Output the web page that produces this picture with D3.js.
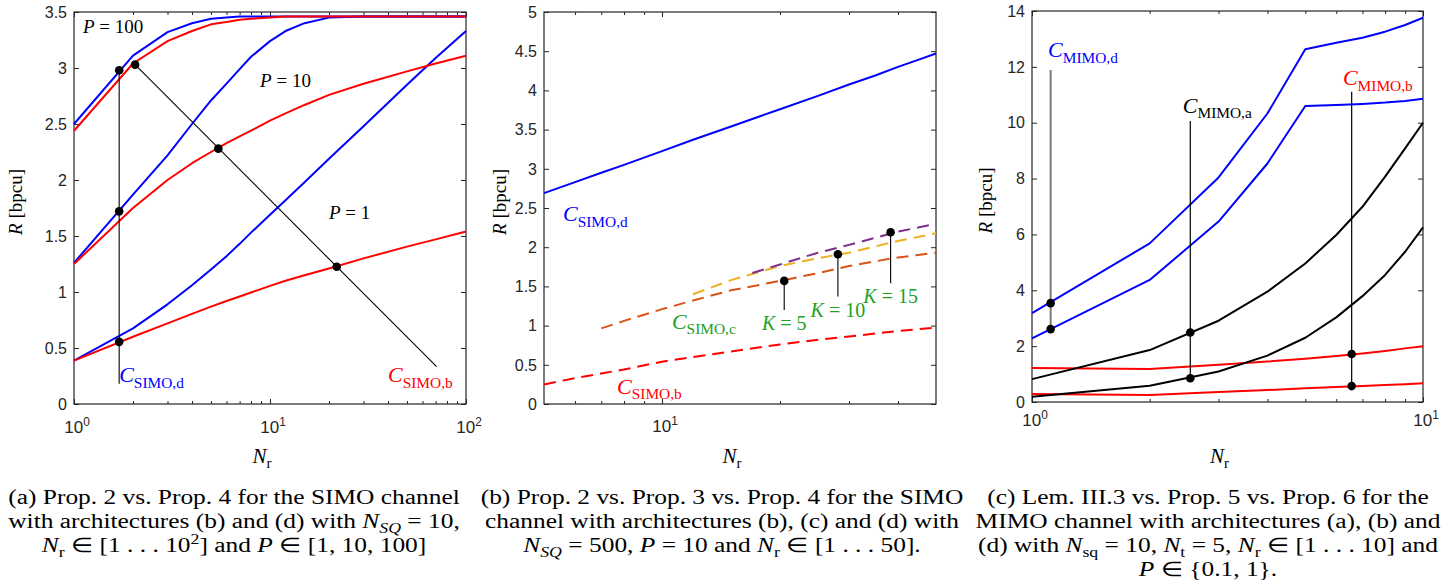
<!DOCTYPE html>
<html>
<head>
<meta charset="utf-8">
<script src="https://cdn.jsdelivr.net/npm/d3@7/dist/d3.min.js"></script>
<style>
body{margin:0;background:#fff;}
svg{display:block;}
text{white-space:pre;}
</style>
</head>
<body>
<svg id="chart" width="1450" height="588" xmlns="http://www.w3.org/2000/svg"></svg>
<script>
// ================= DATA =================
// ---- Panel (a): SIMO, Prop.2 (d, blue) vs Prop.4 (b, red), P = 1, 10, 100
const nrA = [1, 2, 3, 4, 5, 6, 7, 8, 10, 12, 15, 20, 30, 50, 70, 100];
const aD_P100 = [2.50, 3.11, 3.32, 3.40, 3.44, 3.45, 3.46, 3.46, 3.46, 3.46, 3.46, 3.46, 3.46, 3.46, 3.46, 3.46];
const aB_P100 = [2.44, 3.04, 3.24, 3.33, 3.39, 3.41, 3.43, 3.44, 3.45, 3.46, 3.46, 3.46, 3.46, 3.46, 3.46, 3.46];
const aD_P10  = [1.26, 1.87, 2.22, 2.50, 2.71, 2.86, 2.99, 3.10, 3.24, 3.33, 3.40, 3.45, 3.46, 3.46, 3.46, 3.46];
const aB_P10  = [1.25, 1.75, 2.00, 2.15, 2.25, 2.33, 2.39, 2.44, 2.53, 2.595, 2.67, 2.76, 2.86, 2.97, 3.04, 3.11];
const aD_P1   = [0.387, 0.675, 0.89, 1.06, 1.20, 1.32, 1.43, 1.53, 1.69, 1.82, 1.98, 2.19, 2.48, 2.85, 3.09, 3.33];
const aB_P1   = [0.387, 0.60, 0.72, 0.805, 0.87, 0.92, 0.96, 0.995, 1.055, 1.10, 1.15, 1.21, 1.30, 1.405, 1.47, 1.54];
const aVlineNr = [1.7, 1.7];
const aVlineR  = [0.18, 3.01];
const aDiagNr  = [2.05, 70.8];
const aDiagR   = [3.03, 0.333];
const aDotNr   = [1.7, 1.7, 1.7, 2.05, 5.45, 21.9];
const aDotR    = [2.98, 1.72, 0.555, 3.03, 2.28, 1.225];
const aYTicks  = [0, 0.5, 1, 1.5, 2, 2.5, 3, 3.5];
const aXMajor  = [1, 10, 100];
const aXMinor  = [2, 3, 4, 5, 6, 7, 8, 9, 20, 30, 40, 50, 60, 70, 80, 90];
const aPLabels = ["100", "10", "1"];

// ---- Panel (b): SIMO, N_SQ = 500, P = 10
const nrB   = [5, 6, 7, 8, 10, 12, 15, 20, 25, 30, 35, 40, 45, 50];
const bD    = [2.69, 2.83, 2.95, 3.05, 3.225, 3.37, 3.54, 3.76, 3.93, 4.075, 4.19, 4.30, 4.39, 4.47];
const bB    = [0.25, 0.33, 0.39, 0.44, 0.54, 0.60, 0.67, 0.76, 0.82, 0.86, 0.90, 0.93, 0.955, 0.975];
const nrK5  = [7, 8, 10, 12, 15, 20, 25, 30, 35, 40, 45, 50];
const bK5   = [0.965, 1.06, 1.21, 1.32, 1.45, 1.57, 1.67, 1.76, 1.82, 1.87, 1.90, 1.93];
const nrK10 = [12, 15, 20, 25, 30, 35, 40, 45, 50];
const bK10  = [1.40, 1.58, 1.76, 1.86, 1.93, 2.01, 2.08, 2.13, 2.18];
const nrK15 = [17, 20, 25, 30, 35, 40, 45, 50];
const bK15  = [1.67, 1.78, 1.93, 2.03, 2.12, 2.20, 2.25, 2.30];
const bStemNr  = [20.5, 28.1, 38.3];
const bStemTop = [1.57, 1.91, 2.19];
const bStemBot = [1.20, 1.37, 1.54];
const bKLabels = ["5", "10", "15"];
const bYTicks  = [0, 0.5, 1, 1.5, 2, 2.5, 3, 3.5, 4, 4.5, 5];
const bXMajor  = [10];
const bXMinor  = [6, 7, 8, 9, 20, 30, 40];

// ---- Panel (c): MIMO, N_sq = 10, N_t = 5, P in {0.1, 1}
const nrC      = [1, 2, 3, 4, 5, 6, 7, 8, 9, 10];
const cD_P1    = [3.18, 5.68, 8.04, 10.33, 12.63, 12.86, 13.04, 13.26, 13.50, 13.76];
const cD_P01   = [2.28, 4.37, 6.46, 8.54, 10.60, 10.63, 10.67, 10.72, 10.78, 10.86];
const cA_P1    = [0.82, 1.86, 2.91, 3.95, 4.96, 5.98, 6.99, 8.07, 9.08, 10.0];
const cA_P01   = [0.19, 0.58, 1.09, 1.66, 2.30, 3.03, 3.79, 4.55, 5.38, 6.25];
const cB_P1    = [1.22, 1.18, 1.33, 1.45, 1.55, 1.65, 1.74, 1.83, 1.92, 2.00];
const cB_P01   = [0.29, 0.25, 0.36, 0.43, 0.49, 0.54, 0.57, 0.61, 0.64, 0.67];
const cMarkNr  = [1.116, 2.54, 6.57];
const cMarkTop = [11.89, 10.06, 11.11];
const cMarkBot = [2.61, 0.85, 0.57];
const cDotNr   = [1.116, 1.116, 2.54, 2.54, 6.57, 6.57];
const cDotR    = [3.54, 2.61, 2.49, 0.85, 1.72, 0.57];
const cYTicks  = [0, 2, 4, 6, 8, 10, 12, 14];
const cXMajor  = [1, 10];
const cXMinor  = [2, 3, 4, 5, 6, 7, 8, 9];

// ---- Captions (segments: [text, style])
const capA = [
  [["(a) Prop. 2 vs. Prop. 4 for the SIMO channel"]],
  [["with architectures (b) and (d) with "], ["N", "i"], ["SQ", "subi"], [" = 10,"]],
  [["N", "i"], ["r", "sub"], [" ∈ [1 . . . 10"], ["2", "sup"], ["] and "], ["P", "i"], [" ∈ [1, 10, 100]"]]
];
const capB = [
  [["(b) Prop. 2 vs. Prop. 3 vs. Prop. 4 for the SIMO"]],
  [["channel with architectures (b), (c) and (d) with"]],
  [["N", "i"], ["SQ", "subi"], [" = 500, "], ["P", "i"], [" = 10 and "], ["N", "i"], ["r", "sub"], [" ∈ [1 . . . 50]."]]
];
const capC = [
  [["(c) Lem. III.3 vs. Prop. 5 vs. Prop. 6 for the"]],
  [["MIMO channel with architectures (a), (b) and"]],
  [["(d) with "], ["N", "i"], ["sq", "sub"], [" = 10, "], ["N", "i"], ["t", "sub"], [" = 5, "], ["N", "i"], ["r", "sub"], [" ∈ [1 . . . 10] and"]],
  [["P", "i"], [" ∈ {0.1, 1}."]]
];

// ================= DRAWING =================
const svg = d3.select("#chart");
const AX = "#262626";
const SANS = "'Liberation Sans', Arial, Helvetica, sans-serif";
const SERIF = "'Liberation Serif', 'Times New Roman', Times, serif";
const BLUE = "#0000ff", RED = "#ff0000", GREEN = "#22a022";
const ORANGE = "#d95319", YELLOW = "#edb120", PURPLE = "#7e2f8e";

function rich(parent, x, y, segs, size, opts = {}) {
  const t = parent.append("text")
    .attr("x", x).attr("y", y)
    .attr("font-family", opts.family || SERIF)
    .attr("fill", opts.color || "#000")
    .attr("text-anchor", opts.anchor || "start");
  if (opts.transform) t.attr("transform", opts.transform);
  let cur = 0;
  segs.forEach(([s, st]) => {
    st = st || "";
    const isSub = st.startsWith("sub"), isSup = st.startsWith("sup");
    const fs = (isSub || isSup) ? size * 0.7 : size;
    const off = isSub ? size * 0.25 : isSup ? -size * 0.4 : 0;
    t.append("tspan")
      .attr("dy", (off - cur).toFixed(2))
      .attr("font-size", fs)
      .attr("font-style", st.endsWith("i") ? "italic" : "normal")
      .text(s);
    cur = off;
  });
  return t;
}

function panel(c) {
  const x = d3.scaleLog().domain(c.xDomain).range([c.L, c.R]);
  const y = d3.scaleLinear().domain(c.yDomain).range([c.B, c.T]);
  const g = svg.append("g");
  const ax = (gen, tr) => {
    const a = g.append("g").attr("transform", tr).call(gen);
    a.select(".domain").remove();
    a.selectAll("text").remove();
    a.selectAll("line").attr("stroke", AX).attr("stroke-width", 1);
    return a;
  };
  ax(d3.axisBottom(x).tickValues(c.xMajor).tickSize(-5).tickSizeOuter(0), `translate(0,${c.B})`);
  ax(d3.axisBottom(x).tickValues(c.xMinor).tickSize(-3).tickSizeOuter(0), `translate(0,${c.B})`);
  ax(d3.axisTop(x).tickValues(c.xMajor).tickSize(-5).tickSizeOuter(0), `translate(0,${c.T})`);
  ax(d3.axisTop(x).tickValues(c.xMinor).tickSize(-3).tickSizeOuter(0), `translate(0,${c.T})`);
  ax(d3.axisLeft(y).tickValues(c.yTicks).tickSize(-5).tickSizeOuter(0), `translate(${c.L},0)`);
  ax(d3.axisRight(y).tickValues(c.yTicks).tickSize(-5).tickSizeOuter(0), `translate(${c.R},0)`);
  // frame
  g.append("rect").attr("x", c.L).attr("y", c.T).attr("width", c.R - c.L).attr("height", c.B - c.T)
    .attr("fill", "none").attr("stroke", c.frame || AX).attr("stroke-width", 1.2);
  // y tick labels
  g.selectAll(".ytl").data(c.yTicks).join("text")
    .attr("x", c.L - 7).attr("y", d => y(d)).attr("dy", "0.36em")
    .attr("text-anchor", "end").attr("font-family", SANS).attr("font-size", 16).attr("fill", AX)
    .text(d => String(d));
  // x tick labels 10^k
  c.xMajor.forEach(v => {
    const e = Math.round(Math.log10(v));
    rich(g, x(v) + 3, c.B + c.xlabDy, [["10"], [String(e), "sup"]], 17, { family: SANS, color: AX, anchor: "middle" });
  });
  // axis titles
  rich(g, (c.L + c.R) / 2 - 8, 463, [["N", "i"], ["r", "sub"]], 21, { anchor: "middle" });
  rich(g, 0, 0, [["R", "i"], [" [bpcu]"]], 19,
    { anchor: "middle", transform: `translate(${c.ylabX},${(c.T + c.B) / 2 - 6}) rotate(-90)` });
  return { g, x, y };
}

function drawLine(p, xs, ys, color, w, dash) {
  const line = d3.line().x(d => p.x(d[0])).y(d => p.y(d[1]));
  const path = p.g.append("path").datum(xs.map((v, i) => [v, ys[i]]))
    .attr("d", line).attr("fill", "none").attr("stroke", color)
    .attr("stroke-width", w).attr("stroke-linejoin", "round");
  if (dash) path.attr("stroke-dasharray", dash);
  return path;
}
function drawDots(p, xs, ys) {
  p.g.selectAll(null).data(xs.map((v, i) => [v, ys[i]])).join("circle")
    .attr("cx", d => p.x(d[0])).attr("cy", d => p.y(d[1])).attr("r", 4.3).attr("fill", "#000");
}

// ---------- Panel (a)
const pA = panel({ L: 74, R: 466, T: 12, B: 404, xDomain: [1, 100], yDomain: [0, 3.5],
  yTicks: aYTicks, xMajor: aXMajor, xMinor: aXMinor, ylabX: 22, xlabDy: 29 });
[[aD_P1, BLUE], [aB_P1, RED], [aD_P10, BLUE], [aB_P10, RED], [aD_P100, BLUE], [aB_P100, RED]]
  .forEach(([v, col]) => drawLine(pA, nrA, v, col, 2));
drawLine(pA, aVlineNr, aVlineR, "#000", 1.1);
drawLine(pA, aDiagNr, aDiagR, "#000", 1.1);
drawDots(pA, aDotNr, aDotR);
rich(pA.g, pA.x(1.11), pA.y(3.31), [["P", "i"], [" = " + aPLabels[0]]], 19);
rich(pA.g, pA.x(8.9), pA.y(2.83), [["P", "i"], [" = " + aPLabels[1]]], 19);
rich(pA.g, pA.x(20), pA.y(1.65), [["P", "i"], [" = " + aPLabels[2]]], 19);
rich(pA.g, pA.x(1.7), pA.y(0.196), [["C", "i"], ["SIMO,d", "sub"]], 22, { color: BLUE });
rich(pA.g, pA.x(40), pA.y(0.196), [["C", "i"], ["SIMO,b", "sub"]], 22, { color: RED });

// ---------- Panel (b)
const pB = panel({ L: 544, R: 936, T: 12, B: 404, xDomain: [5, 50], yDomain: [0, 5],
  yTicks: bYTicks, xMajor: bXMajor, xMinor: bXMinor, ylabX: 506, xlabDy: 28 });
drawLine(pB, nrB, bD, BLUE, 2);
drawLine(pB, nrB, bB, RED, 2, "12,7");
drawLine(pB, nrK10, bK10, YELLOW, 2, "12,7");
drawLine(pB, nrK5, bK5, ORANGE, 2, "12,7");
drawLine(pB, nrK15, bK15, PURPLE, 2, "12,7");
bStemNr.forEach((v, i) => drawLine(pB, [v, v], [bStemBot[i], bStemTop[i]], "#000", 1.1));
drawDots(pB, bStemNr, bStemTop);
bStemNr.forEach((v, i) => {
  rich(pB.g, pB.x(v), pB.y(bStemBot[i]) + 20, [["K", "i"], [" = " + bKLabels[i]]], 20, { color: GREEN, anchor: "middle" });
});
rich(pB.g, pB.x(5.59), pB.y(2.33), [["C", "i"], ["SIMO,d", "sub"]], 22, { color: BLUE });
rich(pB.g, pB.x(10.6), pB.y(0.957), [["C", "i"], ["SIMO,c", "sub"]], 22, { color: GREEN });
rich(pB.g, pB.x(7.68), pB.y(0.128), [["C", "i"], ["SIMO,b", "sub"]], 22, { color: RED });

// ---------- Panel (c)
const pC = panel({ L: 1032, R: 1423, T: 11, B: 402, xDomain: [1, 10], yDomain: [0, 14],
  yTicks: cYTicks, xMajor: cXMajor, xMinor: cXMinor, ylabX: 992, xlabDy: 24 });
[[cB_P01, RED], [cB_P1, RED], [cA_P01, "#000"], [cA_P1, "#000"], [cD_P01, BLUE], [cD_P1, BLUE]]
  .forEach(([v, col]) => drawLine(pC, nrC, v, col, 2));
cMarkNr.forEach((v, i) => drawLine(pC, [v, v], [cMarkBot[i], cMarkTop[i]], i === 0 ? "#7a7a7a" : "#000", i === 0 ? 2 : 1.2));
drawDots(pC, cDotNr, cDotR);
rich(pC.g, pC.x(1.099), pC.y(12.35), [["C", "i"], ["MIMO,d", "sub"]], 22, { color: BLUE });
rich(pC.g, pC.x(2.43), pC.y(10.35), [["C", "i"], ["MIMO,a", "sub"]], 22, { color: "#000" });
rich(pC.g, pC.x(6.24), pC.y(11.35), [["C", "i"], ["MIMO,b", "sub"]], 22, { color: RED });

// ---------- Captions
function caption(lines, cx) {
  const base = [504, 528, 552, 576];
  lines.forEach((segs, i) => {
    rich(svg, 0, 0, segs, 20, { anchor: "middle", transform: `translate(${cx},${base[i]}) scale(1.27,1)` });
  });
}
caption(capA, 234);
caption(capB, 722);
caption(capC, 1208);
</script>
</body>
</html>
